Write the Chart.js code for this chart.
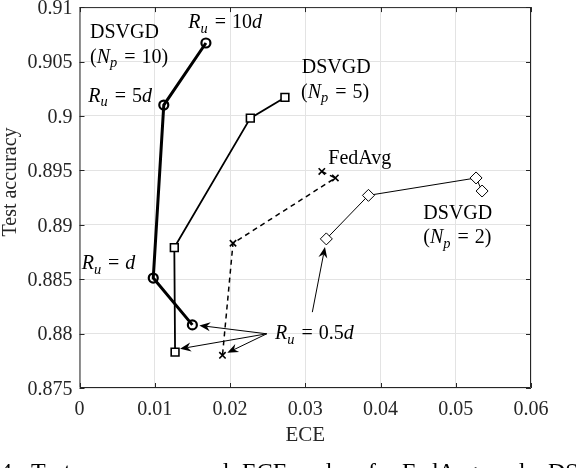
<!DOCTYPE html>
<html><head><meta charset="utf-8">
<script src="https://cdn.jsdelivr.net/npm/chart.js@4"></script>
<style>html,body{margin:0;padding:0;background:#fff}#wrap{width:576px;height:468px;position:relative}</style>
</head><body><div id="wrap"><canvas id="c" width="576" height="468"></canvas></div>
<script>
// ---- data ----
const xTicks = [0, 0.01, 0.02, 0.03, 0.04, 0.05, 0.06];
const xTickLabels = ['0', '0.01', '0.02', '0.03', '0.04', '0.05', '0.06'];
const yTicks = [0.875, 0.88, 0.885, 0.89, 0.895, 0.9, 0.905, 0.91];
const yTickLabels = ['0.875', '0.88', '0.885', '0.89', '0.895', '0.9', '0.905', '0.91'];

const np10ECE = [0.0168, 0.0112, 0.0098, 0.0150];
const np10Acc = [0.9067, 0.9010, 0.8851, 0.8808];
const np5ECE = [0.0273, 0.0227, 0.0126, 0.0127];
const np5Acc = [0.9017, 0.8998, 0.8879, 0.8783];
const fedECE = [0.0322, 0.0340, 0.0204, 0.0190];
const fedAcc = [0.8949, 0.8943, 0.8883, 0.8780];
const np2ECE = [0.0535, 0.0527, 0.0384, 0.0328];
const np2Acc = [0.8931, 0.8943, 0.8927, 0.8887];

const pts = (xs, ys) => xs.map((x, i) => ({x: x, y: ys[i]}));
const SERIF = '"Liberation Serif", "DejaVu Serif", serif';
const INK = '#000000';
const AX = '#262626';

// annotation anchors in data units: [x, y]
const labels = [
  {at: [0.0014, 0.90713], parts: [['DSVGD', '']]},
  {at: [0.0014, 0.90487], parts: [['(', ''], ['N', 'i'], ['p', 's'], [' = 10)', '']]},
  {at: [0.01446, 0.90805], parts: [['R', 'i'], ['u', 's'], [' = 10', ''], ['d', 'i']]},
  {at: [0.00117, 0.90131], parts: [['R', 'i'], ['u', 's'], [' = 5', ''], ['d', 'i']]},
  {at: [0.02953, 0.90392], parts: [['DSVGD', '']]},
  {at: [0.02944, 0.90168], parts: [['(', ''], ['N', 'i'], ['p', 's'], [' = 5)', '']]},
  {at: [0.03306, 0.89557], parts: [['FedAvg', '']]},
  {at: [0.04569, 0.89057], parts: [['DSVGD', '']]},
  {at: [0.04569, 0.88830], parts: [['(', ''], ['N', 'i'], ['p', 's'], [' = 2)', '']]},
  {at: [0.00029, 0.88590], parts: [['R', 'i'], ['u', 's'], [' = ', ''], ['d', 'i']]},
  {at: [0.02598, 0.87946], parts: [['R', 'i'], ['u', 's'], [' = 0.5', ''], ['d', 'i']]}
];
const arrows = [
  {from: [0.02488, 0.87998], to: [0.01592, 0.88075]},
  {from: [0.02488, 0.87998], to: [0.01336, 0.87860]},
  {from: [0.02488, 0.87998], to: [0.01964, 0.87823]},
  {from: [0.03094, 0.88197], to: [0.03262, 0.88796]}
];
const captionWords = [['4:', 0], ['Test', 31], ['accuracy', 90], ['and', 194], ['ECE', 242],
  ['values', 303], ['for', 368], ['FedAvg', 402], ['and', 490], ['DSVGD', 548]];

function drawMath(ctx, x, y, parts, size) {
  let cx = x;
  parts.forEach(([t, st]) => {
    const it = st.includes('i') || st.includes('s');
    const sub = st.includes('s');
    const fs = sub ? size * 0.72 : size;
    ctx.font = (it ? 'italic ' : '') + fs + 'px ' + SERIF;
    let txt = t;
    if (!sub && !it && t.startsWith(' = ')) {
      cx += 6;
      ctx.fillText('=', cx, y);
      cx += ctx.measureText('=').width + 6;
      txt = t.slice(3);
    }
    ctx.fillText(txt, cx, y + (sub ? size * 0.22 : 0));
    cx += ctx.measureText(txt).width + (sub ? 1 : 0);
  });
}

function drawArrow(ctx, x1, y1, x2, y2) {
  const ang = Math.atan2(y2 - y1, x2 - x1);
  const L = 11, W = 4.5, back = 3.5;
  ctx.beginPath();
  ctx.moveTo(x1, y1);
  ctx.lineTo(x2 - Math.cos(ang) * (L - back), y2 - Math.sin(ang) * (L - back));
  ctx.lineWidth = 1;
  ctx.strokeStyle = INK;
  ctx.stroke();
  ctx.save();
  ctx.translate(x2, y2);
  ctx.rotate(ang);
  ctx.beginPath();
  ctx.moveTo(0, 0);
  ctx.lineTo(-L, -W);
  ctx.lineTo(-L + back, 0);
  ctx.lineTo(-L, W);
  ctx.closePath();
  ctx.fillStyle = INK;
  ctx.fill();
  ctx.restore();
}

const decor = {
  id: 'decor',
  afterDraw(chart) {
    const {ctx, chartArea: a, scales: {x, y}} = chart;
    ctx.save();
    ctx.strokeStyle = AX;
    ctx.lineWidth = 1;
    ctx.beginPath();
    ctx.rect(a.left + 0.5, a.top + 0.5, a.right - a.left - 1, a.bottom - a.top - 1);
    ctx.stroke();
    const tl = 5;
    ctx.beginPath();
    xTicks.forEach(v => {
      const px = Math.round(x.getPixelForValue(v)) + 0.5;
      ctx.moveTo(px, a.bottom); ctx.lineTo(px, a.bottom - tl);
      ctx.moveTo(px, a.top); ctx.lineTo(px, a.top + tl);
    });
    yTicks.forEach(v => {
      const py = Math.round(y.getPixelForValue(v)) + 0.5;
      ctx.moveTo(a.left, py); ctx.lineTo(a.left + tl, py);
      ctx.moveTo(a.right, py); ctx.lineTo(a.right - tl, py);
    });
    ctx.stroke();
    // y tick labels, digits centred on the tick
    ctx.fillStyle = AX;
    ctx.font = '20px ' + SERIF;
    ctx.textAlign = 'right';
    ctx.textBaseline = 'alphabetic';
    yTicks.forEach((v, i) => {
      ctx.fillText(yTickLabels[i], a.left - 7, y.getPixelForValue(v) + 6.8);
    });
    arrows.forEach(ar => {
      drawArrow(ctx, x.getPixelForValue(ar.from[0]), y.getPixelForValue(ar.from[1]),
        x.getPixelForValue(ar.to[0]), y.getPixelForValue(ar.to[1]));
    });
    ctx.fillStyle = INK;
    ctx.textAlign = 'left';
    labels.forEach(l => {
      drawMath(ctx, x.getPixelForValue(l.at[0]), y.getPixelForValue(l.at[1]), l.parts, 20);
    });
    // y axis title
    ctx.save();
    ctx.fillStyle = AX;
    ctx.font = '20px ' + SERIF;
    ctx.translate(16, 182);
    ctx.rotate(-Math.PI / 2);
    ctx.textAlign = 'center';
    ctx.fillText('Test accuracy', 0, 0);
    ctx.restore();
    // caption (cut off at bottom)
    ctx.fillStyle = INK;
    ctx.font = '24px ' + SERIF;
    captionWords.forEach(([w, px]) => ctx.fillText(w, px, 479));
    ctx.restore();
  }
};

new Chart(document.getElementById('c'), {
  type: 'scatter',
  data: {
    datasets: [
      {data: pts(np10ECE, np10Acc), showLine: true, borderColor: INK, borderWidth: 3,
        pointStyle: 'circle', pointRadius: 4.5, pointBorderWidth: 2.2,
        pointBorderColor: INK, pointBackgroundColor: 'rgba(0,0,0,0)'},
      {data: pts(np5ECE, np5Acc), showLine: true, borderColor: INK, borderWidth: 1.8,
        pointStyle: 'rect', pointRadius: 5.5, pointBorderWidth: 1.6,
        pointBorderColor: INK, pointBackgroundColor: '#ffffff'},
      {data: pts(fedECE, fedAcc), showLine: true, borderColor: INK, borderWidth: 1.5,
        borderDash: [5, 4], pointStyle: 'crossRot', pointRadius: 4.5, pointBorderWidth: 1.6,
        pointBorderColor: INK},
      {data: pts(np2ECE, np2Acc), showLine: true, borderColor: INK, borderWidth: 1,
        pointStyle: 'rectRot', pointRadius: 6, pointBorderWidth: 1,
        pointBorderColor: INK, pointBackgroundColor: '#ffffff'}
    ]
  },
  options: {
    responsive: false,
    animation: false,
    devicePixelRatio: 1,
    layout: {padding: {left: 0, right: 45, top: 7, bottom: 0}},
    plugins: {legend: {display: false}, tooltip: {enabled: false}},
    elements: {line: {tension: 0}},
    scales: {
      x: {
        type: 'linear', min: 0, max: 0.06,
        afterBuildTicks: s => { s.ticks = xTicks.map(v => ({value: v})); },
        afterFit: s => { s.height = 80; s.paddingLeft = 0; s.paddingRight = 0; },
        ticks: {
          padding: 10, color: AX, maxRotation: 0, autoSkip: false,
          font: {family: SERIF, size: 20},
          callback: (v, i) => xTickLabels[i]
        },
        grid: {color: '#e3e3e3', lineWidth: 1, drawTicks: false},
        border: {display: false},
        title: {display: true, text: 'ECE', color: AX,
          font: {family: SERIF, size: 21, lineHeight: 1}, padding: {top: 0, bottom: 22}}
      },
      y: {
        type: 'linear', min: 0.875, max: 0.91,
        afterBuildTicks: s => { s.ticks = yTicks.map(v => ({value: v})); },
        afterFit: s => { s.width = 79.5; s.paddingTop = 0; s.paddingBottom = 0; },
        ticks: {display: false},
        grid: {color: '#e3e3e3', lineWidth: 1, drawTicks: false},
        border: {display: false},
        title: {display: false}
      }
    }
  },
  plugins: [decor]
});
</script></body></html>
